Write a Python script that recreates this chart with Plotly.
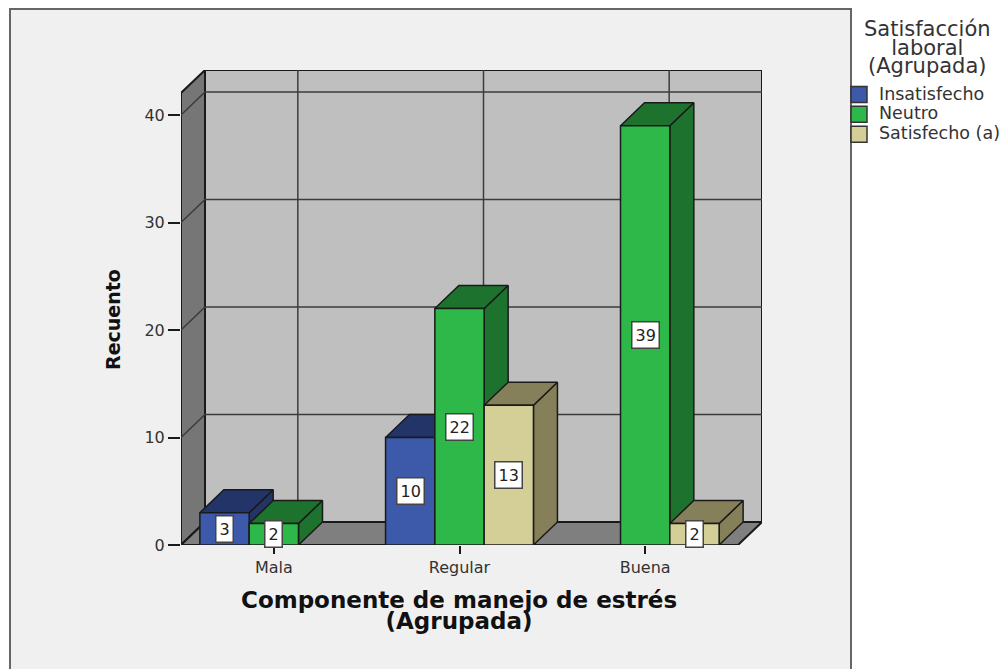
import plotly.graph_objects as go

categories = ["Mala", "Regular", "Buena"]
series_names = ["Insatisfecho", "Neutro", "Satisfecho (a)"]
insatisfecho = [3, 10, None]
neutro = [2, 22, 39]
satisfecho = [None, 13, 2]
y_ticks = [0, 10, 20, 30, 40]
legend_title = ["Satisfacción", "laboral", "(Agrupada)"]
x_title = ["Componente de manejo de estrés", "(Agrupada)"]

front_colors = ["#3c5aa9", "#2fb84a", "#d4cf96"]
dark_colors = ["#233469", "#1d722d", "#858059"]
INK = "#1a1a1a"
GRID = "#3c3c3c"

# plot box on the page
L, R, T, B = 181, 762, 70, 545
PXX = 185.67
PXY = 10.75
DX = 24 / PXX
DY = 23 / PXY
YTOP = 42.05
XMIN, XMAX = -0.5, 2.5
SLOT = 49.3 / PXX

fig = go.Figure()


def poly(xs, ys, fill, line=INK, width=1.5):
    fig.add_trace(go.Scatter(x=xs, y=ys, mode="lines", fill="toself", fillcolor=fill,
                             line=dict(color=line, width=width), showlegend=False,
                             hoverinfo="skip", cliponaxis=False))


def seg(xs, ys, color=GRID, width=1.5):
    fig.add_trace(go.Scatter(x=xs, y=ys, mode="lines", line=dict(color=color, width=width),
                             showlegend=False, hoverinfo="skip", cliponaxis=False))


# walls and floor
poly([XMIN + DX, XMAX + DX, XMAX + DX, XMIN + DX, XMIN + DX],
     [DY, DY, YTOP + DY, YTOP + DY, DY], "#bfbfbf", INK, 2)
poly([XMIN, XMIN + DX, XMIN + DX, XMIN, XMIN],
     [0, DY, YTOP + DY, YTOP, 0], "#767676", INK, 2)
poly([XMIN, XMAX, XMAX + DX, XMIN + DX, XMIN],
     [0, 0, DY, DY, 0], "#7f7f7f", INK, 2)

# gridlines on the back and side walls
for t in y_ticks[1:]:
    seg([XMIN, XMIN + DX, XMAX + DX], [t, t + DY, t + DY])
for i in range(len(categories)):
    seg([i + DX, i + DX], [DY, YTOP + DY])

# bars, painted back to front
all_series = [insatisfecho, neutro, satisfecho]
for c in range(len(categories)):
    for s, vals in enumerate(all_series):
        v = vals[c]
        if v is None:
            continue
        x0 = c + (s - 1.5) * SLOT
        x1 = x0 + SLOT
        poly([x1, x1 + DX, x1 + DX, x1, x1], [0, DY, v + DY, v, 0], dark_colors[s])
        poly([x0, x1, x1 + DX, x0 + DX, x0], [v, v, v + DY, v + DY, v], dark_colors[s])
        poly([x0, x1, x1, x0, x0], [0, 0, v, v, 0], front_colors[s])

# legend entries (line pitch follows the 13px base size, glyphs are drawn larger)
for s, name in enumerate(series_names):
    fig.add_trace(go.Scatter(x=[None], y=[None], mode="markers",
                             name='<span style="font-size:17.5px">%s</span>' % name,
                             marker=dict(symbol="square", size=16, color=front_colors[s],
                                         line=dict(color="#333333", width=1.5))))

annotations = []
for c in range(len(categories)):
    for s, vals in enumerate(all_series):
        v = vals[c]
        if v is None:
            continue
        annotations.append(dict(x=c + (s - 1) * SLOT, y=v / 2, xref="x", yref="y", text=str(v),
                                showarrow=False, bgcolor="white", bordercolor="#444444",
                                borderwidth=1.5, borderpad=3,
                                font=dict(family="DejaVu Sans", size=16, color="#222222")))

px = lambda v: (v - L) / (R - L)
py = lambda v: (B - v) / (B - T)


def stacked(lines, size):
    return "<br>".join('<span style="font-size:%dpx">%s</span>' % (size, t) for t in lines)


annotations.append(dict(x=px(927), y=py(48), xref="paper", yref="paper", xanchor="center", yanchor="middle",
                        text=stacked(legend_title, 21), showarrow=False,
                        font=dict(family="DejaVu Sans", size=14.3, color="#333333")))
annotations.append(dict(x=px(459), y=py(610.5), xref="paper", yref="paper", xanchor="center", yanchor="middle",
                        text=stacked(x_title, 23), showarrow=False,
                        font=dict(family="DejaVu Sans", size=16, color="#111111", weight="bold")))
annotations.append(dict(x=px(113), y=py(320), xref="paper", yref="paper", xanchor="center", yanchor="middle",
                        text="Recuento", textangle=-90, showarrow=False,
                        font=dict(family="DejaVu Sans", size=19, color="#111111", weight="bold")))

fig.update_layout(
    width=1005, height=669,
    margin=dict(l=L, r=1005 - R, t=T, b=669 - B, pad=0, autoexpand=False),
    paper_bgcolor="white", plot_bgcolor="rgba(0,0,0,0)",
    font=dict(family="DejaVu Sans", color="#333333"),
    annotations=annotations,
    shapes=[dict(type="rect", xref="paper", yref="paper", x0=px(10), x1=px(851),
                 y0=py(690), y1=py(9), fillcolor="#f0f0f0",
                 line=dict(color="#666666", width=2), layer="below")],
    legend=dict(x=px(839), y=py(79.5), xanchor="left", yanchor="top", bgcolor="rgba(0,0,0,0)",
                font=dict(family="DejaVu Sans", size=13, color="#333333"),
                itemwidth=30, borderwidth=0),
    xaxis=dict(range=[XMIN, XMAX + DX], tickmode="array", tickvals=[0, 1, 2], ticktext=categories,
               showgrid=False, zeroline=False, showline=False, ticks="outside", ticklen=8,
               tickwidth=1.5, tickcolor=INK, tickfont=dict(family="DejaVu Sans", size=16, color="#333333")),
    yaxis=dict(range=[0, YTOP + DY], tickmode="array", tickvals=y_ticks,
               showgrid=False, zeroline=False, showline=False, ticks="outside", ticklen=12,
               tickwidth=1.5, tickcolor=INK, tickfont=dict(family="DejaVu Sans", size=16, color="#333333")),
)

fig.write_html("out.html", config={"displayModeBar": False},
               post_script="document.body.style.margin='0';")
